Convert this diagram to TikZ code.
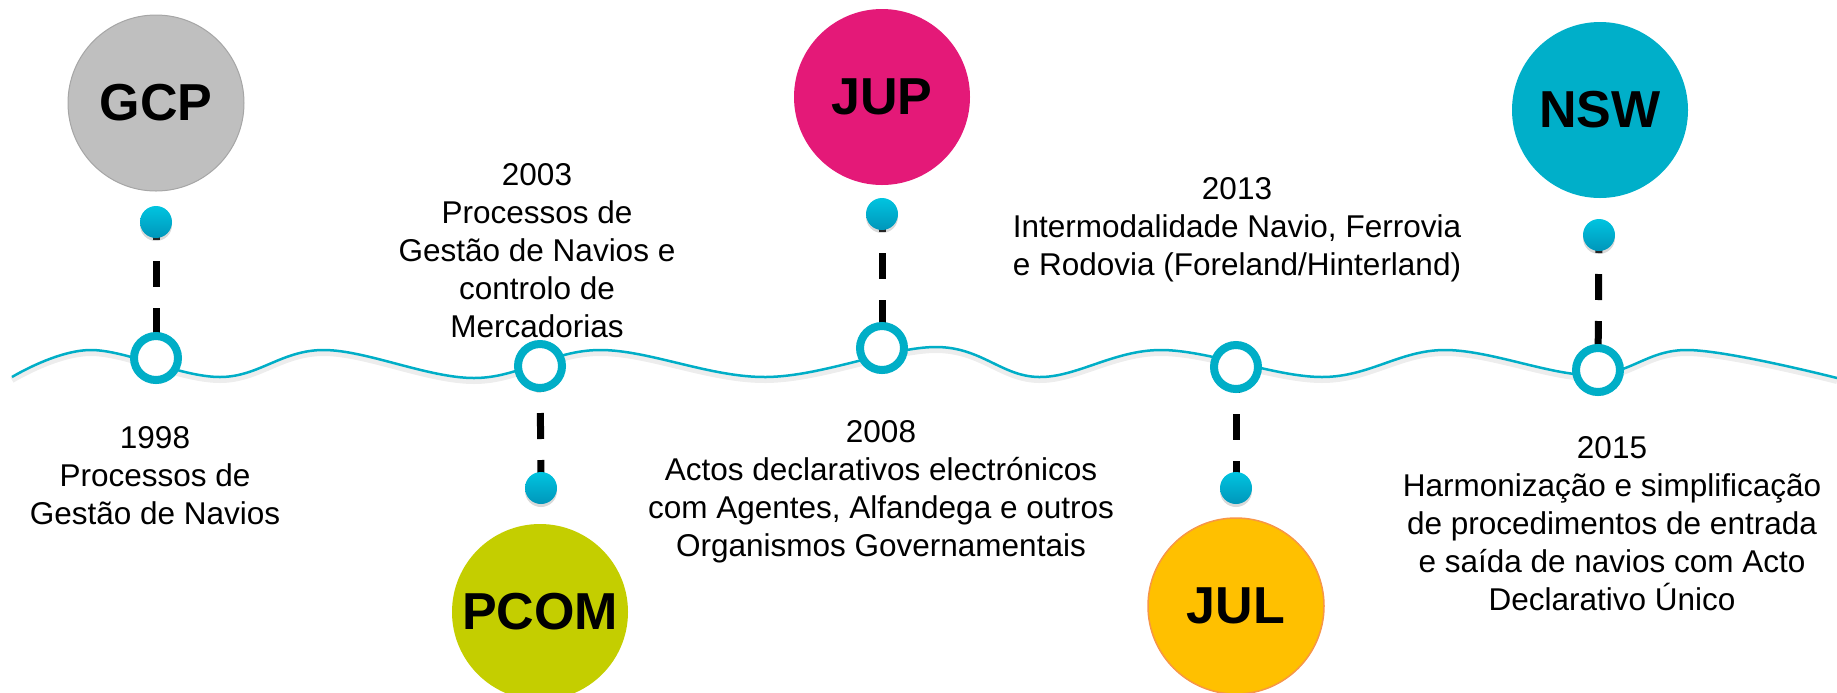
\documentclass[tikz,border=0pt]{standalone}
\usepackage{fontspec}
\setmainfont{Liberation Sans}
\usetikzlibrary{shadows}
\definecolor{wavecyan}{RGB}{0,174,199}
\definecolor{beadtop}{RGB}{0,196,224}
\definecolor{beadbot}{RGB}{0,150,186}
\definecolor{gcpfill}{RGB}{191,191,191}
\definecolor{gcpline}{RGB}{166,166,166}
\definecolor{pcomfill}{RGB}{196,206,0}
\definecolor{jupfill}{RGB}{228,25,120}
\definecolor{julfill}{RGB}{255,192,0}
\definecolor{julline}{RGB}{247,150,70}
\definecolor{nswfill}{RGB}{0,175,201}
\begin{document}
\begin{tikzpicture}[x=0.5pt,y=-0.5pt,
    waveline/.style={draw=wavecyan,line width=1.25pt},
    waveshadow/.style={draw=black,opacity=.07,line width=3pt},
    stemline/.style={line width=3.5pt,dash pattern=on 13pt off 10.5pt},
    tlring/.style={circle,draw=wavecyan,line width=4pt,fill=white,minimum size=22pt,inner sep=0pt,
      drop shadow={shadow xshift=0pt,shadow yshift=-2pt,opacity=.35}},
    tlbead/.style={circle,minimum size=16pt,inner sep=0pt,top color=beadtop,bottom color=beadbot,
      drop shadow={shadow xshift=0pt,shadow yshift=-1.5pt,opacity=.3}},
    badge/.style={circle,minimum size=88pt,inner sep=0pt,font=\fontsize{26}{30}\selectfont\bfseries},
    yeartext/.style={align=center,anchor=north,inner sep=0pt,font=\fontsize{15.75}{19}\selectfont}]
  \useasboundingbox (0,0) rectangle (1837,692);
  % the wavy time line
  \foreach \dy/\st in {-1.5pt/waveshadow,0pt/waveline}
    \draw[\st,yshift=\dy] plot[smooth,tension=.6] coordinates {(12,377) (91,350) (220,377) (324,350)
      (474,378) (600,350) (766,377) (936,347) (1039,377) (1161,350) (1322,377) (1444,350)
      (1590,375) (1688,350) (1837,378)};
  % points on the line and the beads
  \coordinate (rgcp) at (156,358);
  \coordinate (rpcom) at (540,366);
  \coordinate (rjup) at (882,348);
  \coordinate (rjul) at (1236,367);
  \coordinate (rnsw) at (1598,370);
  \coordinate (dgcp) at (156,222);
  \coordinate (dpcom) at (541,488);
  \coordinate (djup) at (882,214);
  \coordinate (djul) at (1236,488);
  \coordinate (dnsw) at (1599,235);
  \draw[stemline,dash phase=4pt] (dgcp)--(rgcp);
  \draw[stemline,dash phase=4pt] (djup)--(rjup);
  \draw[stemline,dash phase=4pt] (dnsw)--(rnsw);
  \draw[stemline] (rpcom)--(dpcom);
  \draw[stemline] (rjul)--(djul);
  \foreach \p in {gcp,pcom,jup,jul,nsw}{
    \node[tlring] at (r\p) {};
    \node[tlbead] at (d\p) {};
  }
  % badges
  \node[badge,fill=gcpfill,draw=gcpline,line width=.5pt] (gcp) at (156,103) {GCP};
  \node[badge,fill=pcomfill] (pcom) at (540,612) {PCOM};
  \node[badge,fill=jupfill] (jup) at (882,97) {JUP};
  \node[badge,fill=julfill,draw=julline,line width=.75pt] (jul) at (1236,606) {JUL};
  \node[badge,fill=nswfill] (nsw) at (1600,110) {NSW};
  % texts
  \node[yeartext] (t1998) at (155,426) {1998\\Processos de\\Gestão de Navios};
  \node[yeartext] (t2003) at (537,163) {2003\\Processos de\\Gestão de Navios e\\controlo de\\Mercadorias};
  \node[yeartext] (t2008) at (881,420) {2008\\Actos declarativos electrónicos\\com Agentes, Alfandega e outros\\Organismos Governamentais};
  \node[yeartext] (t2013) at (1237,177) {2013\\Intermodalidade Navio, Ferrovia\\e Rodovia (Foreland/Hinterland)};
  \node[yeartext] (t2015) at (1612,436) {2015\\Harmonização e simplificação\\de procedimentos de entrada\\e saída de navios com Acto\\Declarativo Único};
\end{tikzpicture}
\end{document}
